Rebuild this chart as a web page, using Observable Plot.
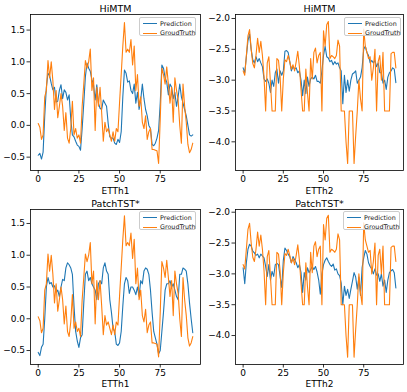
<!DOCTYPE html>
<html>
<head>
<meta charset="utf-8">
<script src="https://cdn.jsdelivr.net/npm/d3@7"></script>
<script src="https://cdn.jsdelivr.net/npm/@observablehq/plot@0.6"></script>
<style>
  html, body { margin: 0; padding: 0; background: white; }
  #wrap { position: relative; width: 407px; height: 392px; overflow: hidden; background: white; font-family: "DejaVu Sans", sans-serif; }
  .panel { position: absolute; }
  .panel svg text { font-weight: 400; }
  .legend { position: absolute; width: 57px; height: 19px; border: 0.8px solid #cccccc; border-radius: 2px; background: rgba(255,255,255,0.8); font-size: 6.4px; color: #222; box-sizing: border-box; }
  .row { position: absolute; left: 3px; height: 8px; display: flex; align-items: center; white-space: nowrap; }
  .sw { width: 14px; height: 0; border-top: 1.2px solid; margin-right: 3px; }
</style>
</head>
<body>
<div id="wrap"></div>
<script>
// ---- data ----
const xTicks = [0, 25, 50, 75];
const yTicksH1 = [-0.5, 0.0, 0.5, 1.0, 1.5];
const yTicksH2 = [-4.0, -3.5, -3.0, -2.5, -2.0];
const seriesNames = ["Prediction", "GroudTruth"];
const panelTitles = ["HiMTM", "HiMTM", "PatchTST*", "PatchTST*"];
const datasetLabels = ["ETTh1", "ETTh2", "ETTh1", "ETTh2"];

const etth1Truth = [
  0.03, -0.03, -0.22, -0.15, 0.45, 0.55, 1.02, 0.75, 1.00, 0.70,
  0.25, 0.55, 0.12, 0.30, 0.50, 0.30, -0.08, 0.20, -0.20, -0.28,
  -0.05, 0.38, -0.15, -0.05, -0.20, -0.15, -0.28, 0.30, 0.65, 1.02,
  0.90, 1.00, 1.20, 0.55, 0.75, -0.08, 0.60, 0.30, 0.60, 0.20,
  -0.25, 0.05, -0.10, -0.05, -0.15, -0.25, -0.10, -0.25, -0.05, -0.10,
  0.36, 0.80, 1.25, 1.62, 1.15, 1.20, 1.15, 1.35, 0.95, 1.25,
  0.55, 0.80, 0.30, 0.45, 0.05, -0.05, 0.15, -0.22, -0.10, -0.05,
  -0.38, -0.38, -0.39, -0.40, -0.60, 0.10, 0.90, 0.80, 0.65, 0.92,
  0.65, 0.35, 0.60, 0.05, 0.75, 0.55, 0.40, 0.00, -0.28, 0.65,
  0.30, 0.05, -0.30, -0.43, -0.38, -0.28
];
const himtmEtth1Pred = [
  -0.47, -0.44, -0.53, -0.42, 0.15, 0.60, 0.82, 0.78, 0.66, 0.56,
  0.60, 0.37, 0.38, 0.55, 0.64, 0.42, 0.56, 0.52, 0.40, 0.48,
  0.10, -0.15, -0.18, -0.25, -0.31, -0.33, -0.39, -0.05, 0.35, 0.77,
  0.98, 0.90, 0.85, 0.72, 0.64, 0.40, 0.64, 0.35, 0.27, 0.25,
  0.40, 0.35, 0.30, 0.03, -0.18, -0.20, -0.20, -0.28, -0.30, -0.22,
  -0.27, -0.10, 0.45, 0.87, 0.82, 0.68, 0.70, 0.55, 0.50, 0.65,
  0.35, 0.52, 0.25, 0.40, 0.65, 0.42, 0.25, 0.15, 0.00, -0.05,
  -0.30, -0.32, -0.28, -0.20, -0.08, 0.35, 0.95, 0.90, 0.75, 0.68,
  0.48, 0.65, 0.60, 0.42, 0.52, 0.30, 0.45, 0.65, 0.45, 0.35,
  0.25, 0.15, 0.00, -0.15, -0.17, -0.15
];
const patchEtth1Pred = [
  -0.53, -0.58, -0.45, -0.40, 0.00, 0.50, 0.65, 0.55, 0.57, 0.50,
  0.52, 0.42, 0.45, 0.35, 0.50, 0.62, 0.60, 0.80, 0.88, 0.85,
  0.80, 0.70, 0.20, -0.20, -0.35, -0.45, -0.30, -0.25, 0.25, 0.70,
  0.75, 0.60, 0.65, 0.55, 0.50, 0.45, 0.30, 0.55, 0.60, 0.55,
  0.80, 0.88, 0.75, 0.70, 0.30, 0.10, -0.15, -0.20, -0.40, -0.42,
  -0.38, -0.20, 0.20, 0.55, 0.65, 0.60, 0.40, 0.50, 0.50, 0.45,
  0.38, 0.50, 0.35, 0.60, 0.55, 0.75, 0.80, 0.78, 0.70, 0.45,
  0.10, -0.20, -0.30, -0.40, -0.55, -0.50, -0.20, 0.10, 0.45, 0.55,
  0.55, 0.60, 0.50, 0.55, 0.45, 0.35, 0.30, 0.70, 0.70, 0.80,
  0.78, 0.75, 0.55, 0.25, 0.00, -0.22
];
const etth2Truth = [
  -2.85, -2.92, -2.60, -2.28, -2.18, -2.50, -2.73, -2.80, -2.60, -2.32,
  -2.55, -2.37, -2.60, -2.95, -3.50, -2.72, -2.62, -3.05, -3.50, -3.50,
  -3.50, -2.65, -2.68, -2.95, -3.50, -2.98, -2.67, -2.70, -2.60, -2.70,
  -2.82, -2.75, -2.85, -2.70, -2.53, -2.78, -3.15, -3.50, -3.50, -2.82,
  -3.20, -3.50, -2.65, -2.98, -2.55, -2.48, -2.72, -2.60, -2.55, -3.50,
  -2.20, -2.45, -2.10, -2.05, -2.65, -2.60, -2.62, -2.65, -2.60, -2.35,
  -2.45, -3.50, -3.50, -3.50, -4.00, -4.35, -3.50, -3.50, -3.50, -4.35,
  -3.90, -3.50, -3.00, -3.30, -3.50, -2.17, -2.45, -2.55, -2.65, -2.62,
  -3.00, -2.80, -2.50, -3.50, -2.70, -2.60, -3.00, -2.55, -3.50, -3.50,
  -3.50, -3.50, -2.57, -2.55, -2.55, -2.80
];
const himtmEtth2Pred = [
  -2.80, -2.88, -2.62, -2.36, -2.25, -2.50, -2.67, -2.72, -2.62, -2.70,
  -2.65, -2.72, -2.78, -2.98, -3.02, -2.98, -3.05, -3.20, -3.00, -3.10,
  -2.88, -2.82, -3.05, -2.85, -2.92, -2.85, -2.53, -2.52, -2.55, -2.70,
  -2.85, -2.78, -2.82, -2.80, -2.88, -2.85, -3.00, -3.25, -3.00, -3.22,
  -2.95, -3.10, -2.98, -2.95, -2.98, -2.92, -3.02, -3.02, -3.05, -2.85,
  -2.60, -2.45, -2.62, -2.64, -2.70, -2.68, -2.75, -2.70, -2.74, -2.72,
  -2.80, -2.85, -3.38, -2.92, -3.20, -3.00, -3.18, -3.00, -2.90, -2.88,
  -2.85, -3.05, -3.00, -2.95, -2.80, -2.50, -2.45, -2.55, -2.60, -2.72,
  -2.68, -2.72, -2.68, -2.78, -2.72, -2.88, -2.88, -3.05, -3.00, -3.15,
  -2.95, -2.88, -2.85, -2.80, -2.82, -3.04
];
const patchEtth2Pred = [
  -2.90, -3.16, -2.82, -2.60, -2.52, -2.55, -2.63, -2.66, -2.70, -2.68,
  -2.74, -2.68, -2.71, -2.74, -2.88, -3.04, -2.85, -3.10, -2.96, -3.04,
  -2.85, -2.83, -2.85, -3.04, -3.22, -2.78, -2.58, -2.62, -2.68, -2.72,
  -2.82, -2.72, -2.77, -2.82, -2.90, -2.85, -2.98, -3.30, -2.98, -3.10,
  -2.90, -2.98, -2.93, -2.88, -2.93, -2.88, -2.97, -3.10, -3.33, -3.00,
  -2.85, -2.78, -2.74, -2.80, -2.85, -2.88, -2.84, -2.94, -2.92, -3.00,
  -3.03, -3.15, -3.50, -3.20, -3.35, -3.25, -3.40, -3.25, -3.12, -2.98,
  -3.05, -3.25, -3.05, -3.35, -2.90, -2.74, -2.62, -2.68, -2.82, -2.88,
  -2.92, -3.00, -2.92, -3.02, -3.00, -3.12, -3.00, -3.20, -3.10, -3.30,
  -3.10, -2.98, -2.95, -2.93, -2.98, -3.23
];

// ---- layout ----
const panels = [
  {pred: himtmEtth1Pred, truth: etth1Truth, ticks: yTicksH1, domain: [-0.71, 1.745],
   left: 0, top: 0, width: 203, height: 196, ml: 30, mr: 3, mt: 14, mb: 26, tdy: -2.3, ldy: 23, lg: [139, 17]},
  {pred: himtmEtth2Pred, truth: etth2Truth, ticks: yTicksH2, domain: [-4.465, -1.935],
   left: 203, top: 0, width: 204, height: 196, ml: 32, mr: 4, mt: 14, mb: 26, tdy: -2.3, ldy: 23, lg: [344, 17]},
  {pred: patchEtth1Pred, truth: etth1Truth, ticks: yTicksH1, domain: [-0.72, 1.72],
   left: 0, top: 196, width: 203, height: 196, ml: 30, mr: 3, mt: 13, mb: 28, tdy: -3, ldy: 22, lg: [139, 211]},
  {pred: patchEtth2Pred, truth: etth2Truth, ticks: yTicksH2, domain: [-4.47, -1.956],
   left: 203, top: 196, width: 204, height: 196, ml: 32, mr: 4, mt: 13, mb: 28, tdy: -3, ldy: 22, lg: [343, 211]}
];
const colors = ["#1f77b4", "#ff7f0e"];
const wrap = document.getElementById("wrap");

panels.forEach((p, k) => {
  const chart = Plot.plot({
    width: p.width, height: p.height,
    marginLeft: p.ml, marginRight: p.mr, marginTop: p.mt, marginBottom: p.mb,
    style: {fontFamily: "DejaVu Sans, sans-serif", fontSize: "9px", fontWeight: "400", color: "#000", background: "transparent", overflow: "visible"},
    x: {domain: [-4.75, 99.75]},
    y: {domain: p.domain},
    marks: [
      Plot.axisX({ticks: xTicks, tickFormat: "d", tickSize: 3.5, tickPadding: 2, label: null, stroke: "#000", strokeWidth: 0.8, fill: "#000"}),
      Plot.axisY({ticks: p.ticks, tickFormat: ".1f", tickSize: 3.5, tickPadding: 2, label: null, stroke: "#000", strokeWidth: 0.8, fill: "#000"}),
      Plot.lineY(p.pred, {x: (d, i) => i, y: d => d, stroke: colors[0], strokeWidth: 1.1}),
      Plot.lineY(p.truth, {x: (d, i) => i, y: d => d, stroke: colors[1], strokeWidth: 1.1}),
      Plot.frame({stroke: "#000", strokeWidth: 0.8}),
      Plot.text([panelTitles[k]], {text: d => d, frameAnchor: "top", lineAnchor: "bottom", dy: p.tdy, fontSize: 9.5, fontWeight: 400, fill: "#000"}),
      Plot.text([datasetLabels[k]], {text: d => d, frameAnchor: "bottom", lineAnchor: "bottom", dy: p.ldy, fontSize: 9, fontWeight: 400, fill: "#000"})
    ]
  });
  const holder = document.createElement("div");
  holder.className = "panel";
  holder.style.left = p.left + "px";
  holder.style.top = p.top + "px";
  holder.appendChild(chart);
  wrap.appendChild(holder);

  const lg = document.createElement("div");
  lg.className = "legend";
  lg.style.left = p.lg[0] + "px";
  lg.style.top = p.lg[1] + "px";
  seriesNames.forEach((name, j) => {
    const row = document.createElement("div");
    row.className = "row";
    row.style.top = (1.8 + j * 9.2) + "px";
    const sw = document.createElement("span");
    sw.className = "sw";
    sw.style.borderTopColor = colors[j];
    const tx = document.createElement("span");
    tx.textContent = name;
    row.appendChild(sw);
    row.appendChild(tx);
    lg.appendChild(row);
  });
  wrap.appendChild(lg);
});
</script>
</body>
</html>
